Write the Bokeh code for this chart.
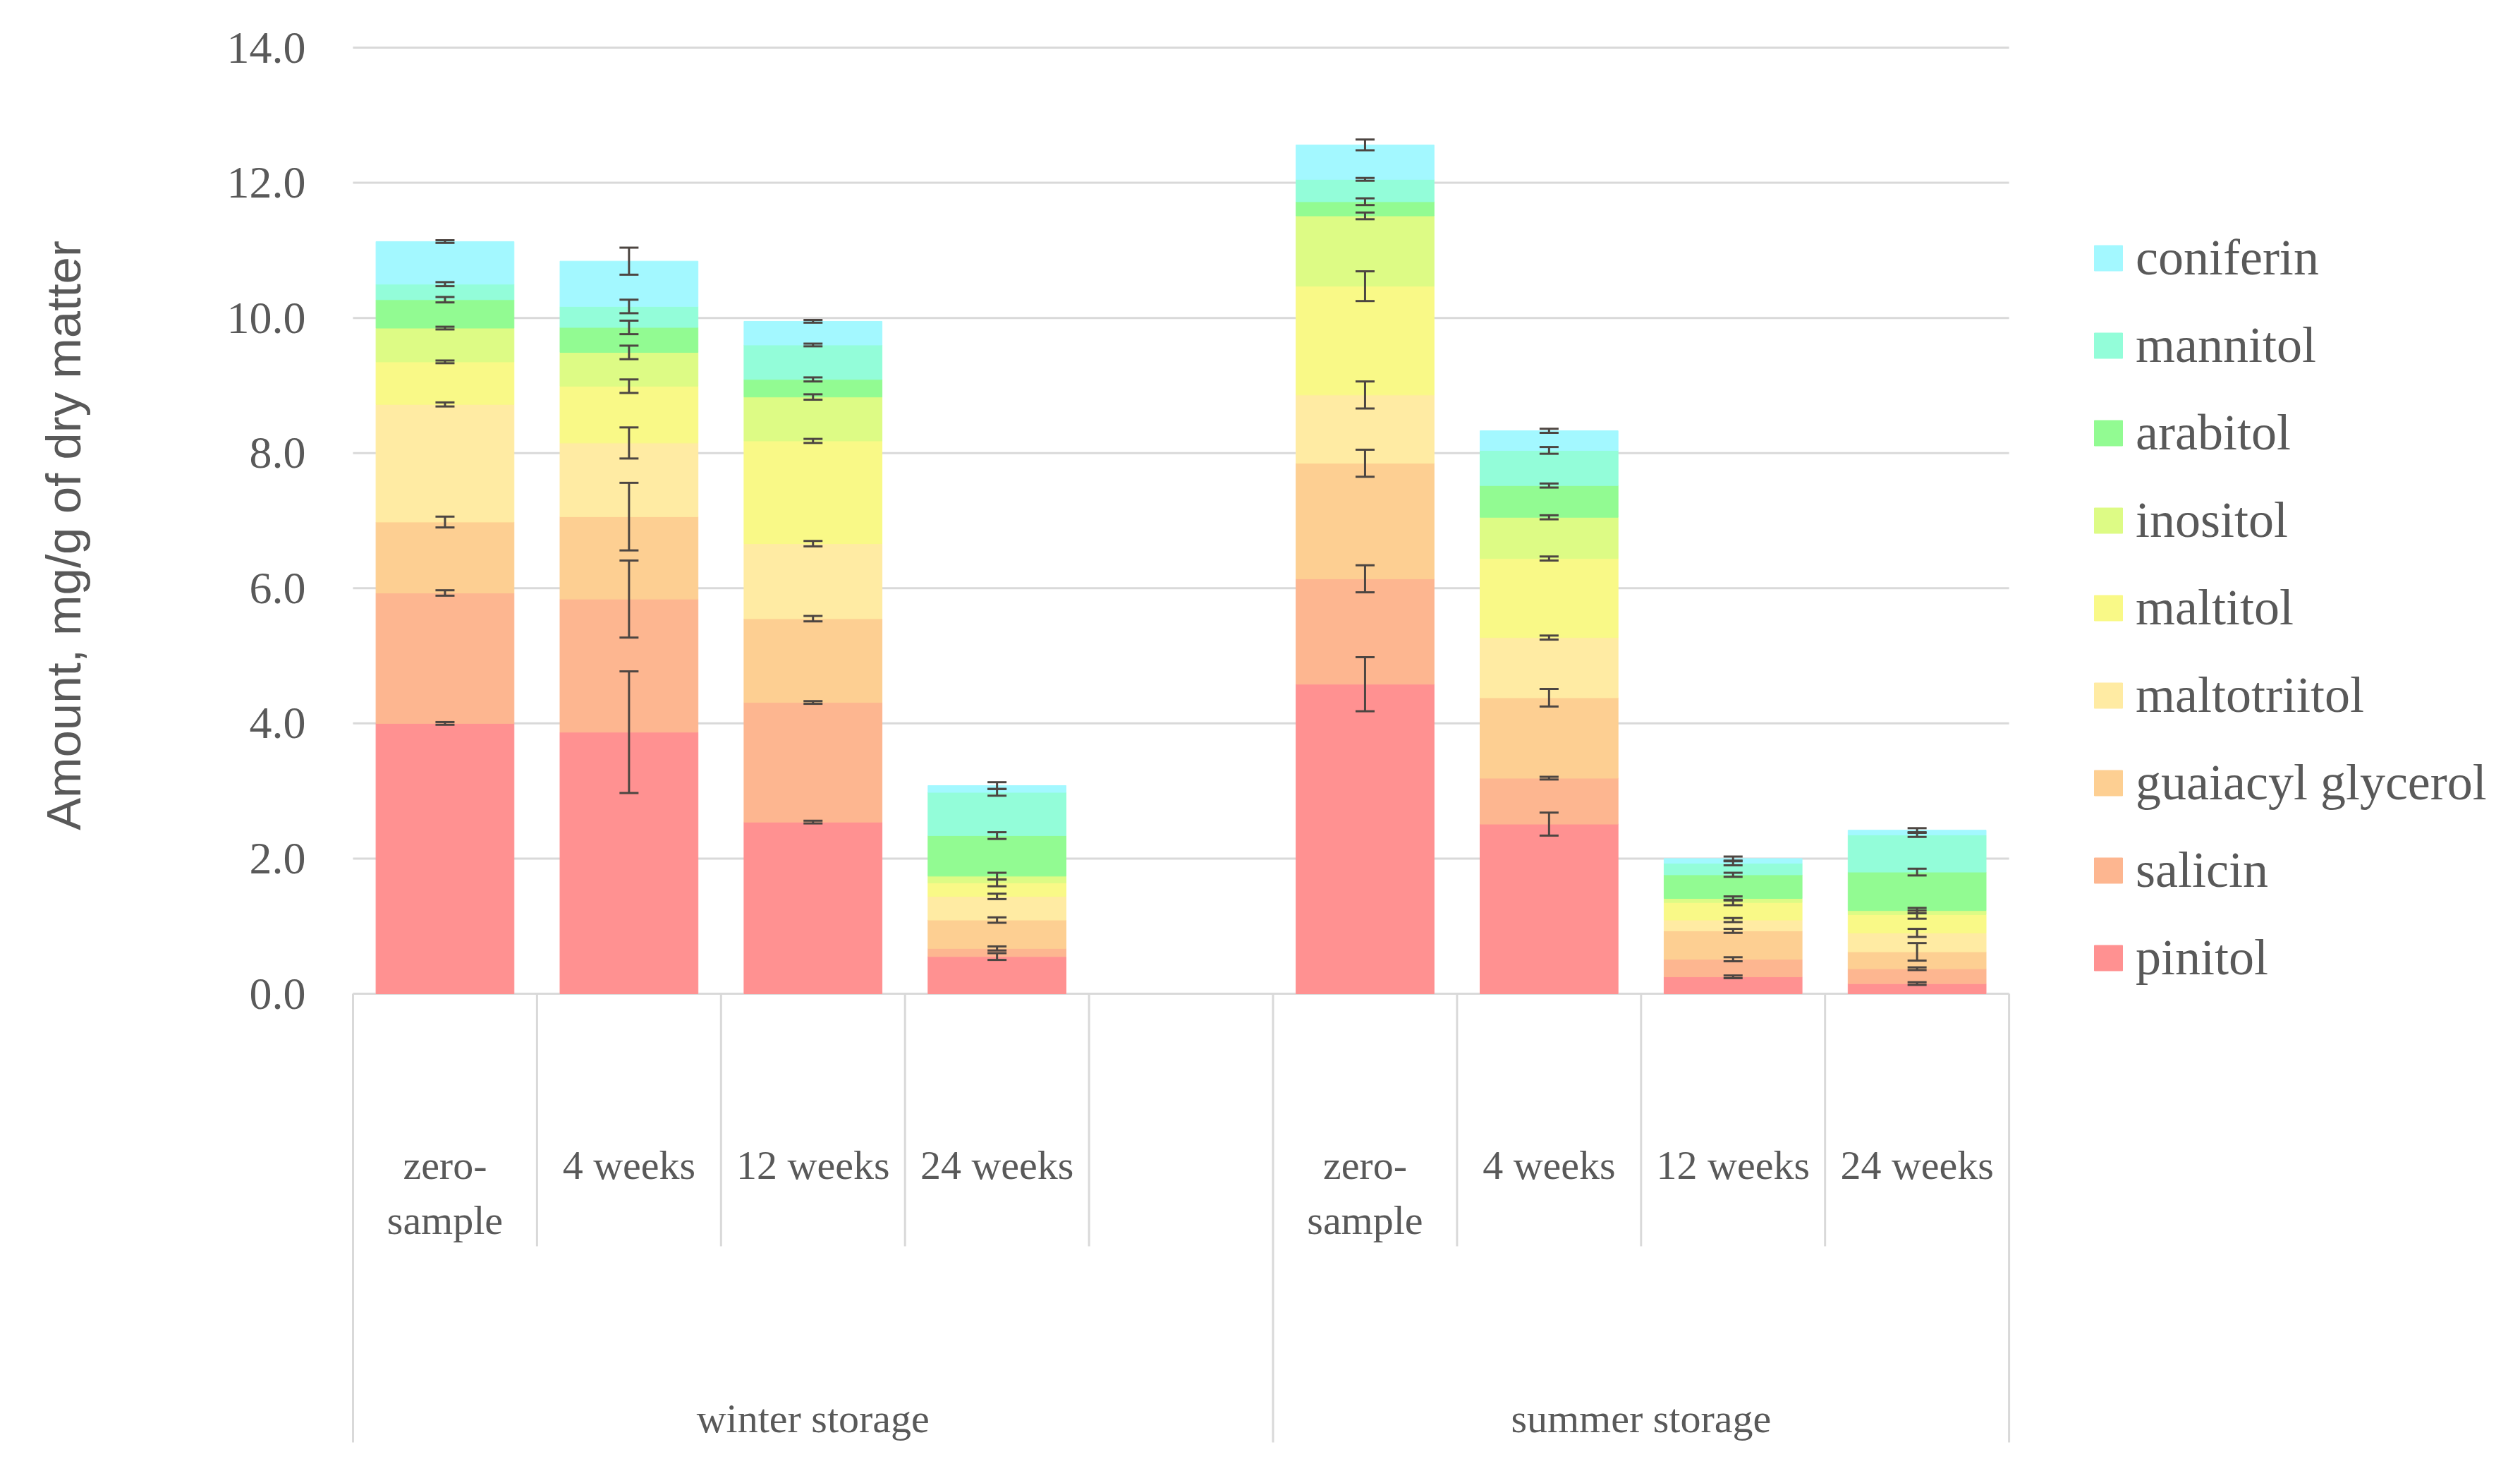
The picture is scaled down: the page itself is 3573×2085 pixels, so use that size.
from bokeh.plotting import figure
from bokeh.models import (Range1d, ColumnDataSource, FixedTicker, PrintfTickFormatter,
                          Legend, LegendItem, Whisker, TeeHead, Label)
from bokeh.core.properties import value
from bokeh.embed import file_html
from bokeh.resources import INLINE

# ---------------- data ----------------
groups = ["winter storage", "summer storage"]
periods = ["zero-sample", "4 weeks", "12 weeks", "24 weeks"]
period_labels = ["zero-\nsample", "4 weeks", "12 weeks", "24 weeks"]
compounds = ["pinitol", "salicin", "guaiacyl glycerol", "maltotriitol", "maltitol",
             "inositol", "arabitol", "mannitol", "coniferin"]
colors = ["#FF9191", "#FDB690", "#FDCF92", "#FFEBA3", "#F9F987",
          "#DDFB85", "#92FB92", "#93FDD9", "#A3F8FF"]
y_ticks = [0, 2, 4, 6, 8, 10, 12, 14]

# bars: winter zero, 4w, 12w, 24w, summer zero, 4w, 12w, 24w
pinitol      = [4.00, 3.87, 2.54, 0.55, 4.58, 2.51, 0.25, 0.15]
salicin      = [1.93, 1.97, 1.77, 0.12, 1.56, 0.68, 0.26, 0.22]
guaiacyl     = [1.05, 1.22, 1.24, 0.42, 1.71, 1.19, 0.42, 0.25]
maltotriitol = [1.74, 1.09, 1.11, 0.35, 1.01, 0.89, 0.16, 0.28]
maltitol     = [0.63, 0.84, 1.52, 0.20, 1.61, 1.17, 0.26, 0.27]
inositol     = [0.50, 0.50, 0.65, 0.10, 1.04, 0.61, 0.06, 0.06]
arabitol     = [0.42, 0.37, 0.26, 0.60, 0.21, 0.47, 0.35, 0.57]
mannitol     = [0.23, 0.31, 0.51, 0.64, 0.33, 0.52, 0.17, 0.55]
coniferin    = [0.63, 0.67, 0.35, 0.10, 0.51, 0.29, 0.07, 0.07]

pinitol_err      = [0.02, 0.90, 0.02, 0.05, 0.40, 0.17, 0.02, 0.02]
salicin_err      = [0.04, 0.57, 0.02, 0.03, 0.20, 0.02, 0.03, 0.02]
guaiacyl_err     = [0.08, 0.50, 0.04, 0.04, 0.20, 0.13, 0.03, 0.13]
maltotriitol_err = [0.03, 0.23, 0.04, 0.04, 0.20, 0.03, 0.03, 0.06]
maltitol_err     = [0.02, 0.10, 0.03, 0.05, 0.22, 0.03, 0.04, 0.06]
inositol_err     = [0.02, 0.10, 0.04, 0.05, 0.05, 0.03, 0.03, 0.04]
arabitol_err     = [0.04, 0.10, 0.03, 0.05, 0.05, 0.03, 0.03, 0.05]
mannitol_err     = [0.03, 0.10, 0.02, 0.05, 0.02, 0.05, 0.03, 0.03]
coniferin_err    = [0.02, 0.20, 0.02, 0.05, 0.08, 0.03, 0.03, 0.03]

series = [pinitol, salicin, guaiacyl, maltotriitol, maltitol, inositol, arabitol, mannitol, coniferin]
errors = [pinitol_err, salicin_err, guaiacyl_err, maltotriitol_err, maltitol_err,
          inositol_err, arabitol_err, mannitol_err, coniferin_err]

# ---------------- category slots (winter has an empty 5th slot) ----------------
slots = [(groups[0], p) for p in periods] + [(groups[0], "")] + [(groups[1], p) for p in periods]
bar_factors = [(g, p) for g in groups for p in periods]
bar_pos = [slots.index(f) for f in bar_factors]
n_slots = len(slots)

FONT_SERIF = "Liberation Serif"
GREY = "#595959"
GRID = "#D9D9D9"

# canvas geometry (pixels) -> data ranges
W, H = 3557, 2069
SLOT_PX = 260.9
X0_PX = 500            # left edge of first slot
Y0_PX, Y14_PX = 1408, 67
PX_PER_UNIT = (Y0_PX - Y14_PX) / 14.0
x_start = -0.5 - X0_PX / SLOT_PX
x_end = -0.5 + (W - X0_PX) / SLOT_PX
y_end = 14 + Y14_PX / PX_PER_UNIT
y_start = -(H - Y0_PX) / PX_PER_UNIT
y_sep_full = -(2044 - Y0_PX) / PX_PER_UNIT
y_sep_short = -(1766 - Y0_PX) / PX_PER_UNIT

p = figure(width=W, height=H, output_backend="svg", toolbar_location=None,
           x_range=Range1d(x_start, x_end), y_range=Range1d(y_start, y_end),
           min_border_left=0, min_border_right=0, min_border_top=0, min_border_bottom=0)
p.outline_line_color = None
p.background_fill_color = "white"
p.border_fill_color = "white"
p.xgrid.grid_line_color = None
p.ygrid.grid_line_color = None
p.xaxis.visible = False

# ---------------- gridlines (limited to the category slots) ----------------
p.segment(x0=[-0.5] * len(y_ticks), x1=[n_slots - 0.5] * len(y_ticks), y0=y_ticks, y1=y_ticks,
          line_color=GRID, line_width=3)

# ---------------- stacked bars ----------------
data = {"x": bar_pos}
for c, s in zip(compounds, series):
    data[c] = s
src = ColumnDataSource(data)
renderers = p.vbar_stack(compounds, x="x", width=0.75, source=src,
                         fill_color=colors, line_color=colors, line_width=1)

# ---------------- error bars ----------------
ex, eu, el = [], [], []
for i, xp in enumerate(bar_pos):
    cum = 0.0
    for s, e in zip(series, errors):
        cum += s[i]
        ex.append(xp)
        eu.append(cum + e[i])
        el.append(cum - e[i])
esrc = ColumnDataSource(dict(base=ex, upper=eu, lower=el))
EC = "#4D4642"
p.add_layout(Whisker(base="base", upper="upper", lower="lower", source=esrc, dimension="height",
                     level="annotation", line_color=EC, line_width=3,
                     upper_head=TeeHead(size=27, line_color=EC, line_width=3),
                     lower_head=TeeHead(size=27, line_color=EC, line_width=3)))

# ---------------- y axis ----------------
p.yaxis.fixed_location = -0.5
p.yaxis.ticker = FixedTicker(ticks=y_ticks)
p.yaxis.formatter = PrintfTickFormatter(format="%.1f")
p.yaxis.axis_line_color = None
p.yaxis.major_tick_line_color = None
p.yaxis.minor_tick_line_color = None
p.yaxis.major_tick_out = 0
p.yaxis.major_tick_in = 0
p.yaxis.major_label_standoff = 67
p.yaxis.major_label_text_font = FONT_SERIF
p.yaxis.major_label_text_font_size = "64px"
p.yaxis.major_label_text_color = GREY

title_x = -0.5 - (X0_PX - 90) / SLOT_PX
p.add_layout(Label(x=title_x, y=6.78, angle=90, angle_units="deg",
                   text="Amount, mg/g of dry matter", text_font="Liberation Sans",
                   text_font_size="69px", text_color=GREY,
                   text_align="center", text_baseline="middle"))

# ---------------- category axis ----------------
sep_x = [i - 0.5 for i in range(n_slots + 1)]
sep_y1 = [y_sep_full if i in (0, 5, n_slots) else y_sep_short for i in range(n_slots + 1)]
p.segment(x0=sep_x, y0=[0] * len(sep_x), x1=sep_x, y1=sep_y1, line_color=GRID, line_width=3)

p.text(x=bar_pos, y=[-2.20] * len(bar_pos), text=period_labels * 2, text_font=value(FONT_SERIF),
       text_font_size="58px", text_color=GREY, text_align="center", text_baseline="top",
       text_line_height=1.2)

grp_x = [2.0, 6.5]   # centre of the winter (5 slots) and summer (4 slots) groups
p.text(x=grp_x, y=[-6.28, -6.28], text=groups, text_font=value(FONT_SERIF),
       text_font_size="58px", text_color=GREY, text_align="center", text_baseline="middle")

# ---------------- legend ----------------
items = [LegendItem(label=c, renderers=[r]) for c, r in zip(compounds, renderers)][::-1]
legend = Legend(items=items, location=(2964, 667), orientation="vertical",
                glyph_width=50, glyph_height=45, label_standoff=14, label_height=90,
                label_text_font=FONT_SERIF, label_text_font_size="72px", label_text_color=GREY,
                spacing=34, padding=0, margin=0, border_line_color=None,
                background_fill_alpha=0)
p.add_layout(legend, "center")

open("out.html", "w").write(file_html(p, INLINE))
